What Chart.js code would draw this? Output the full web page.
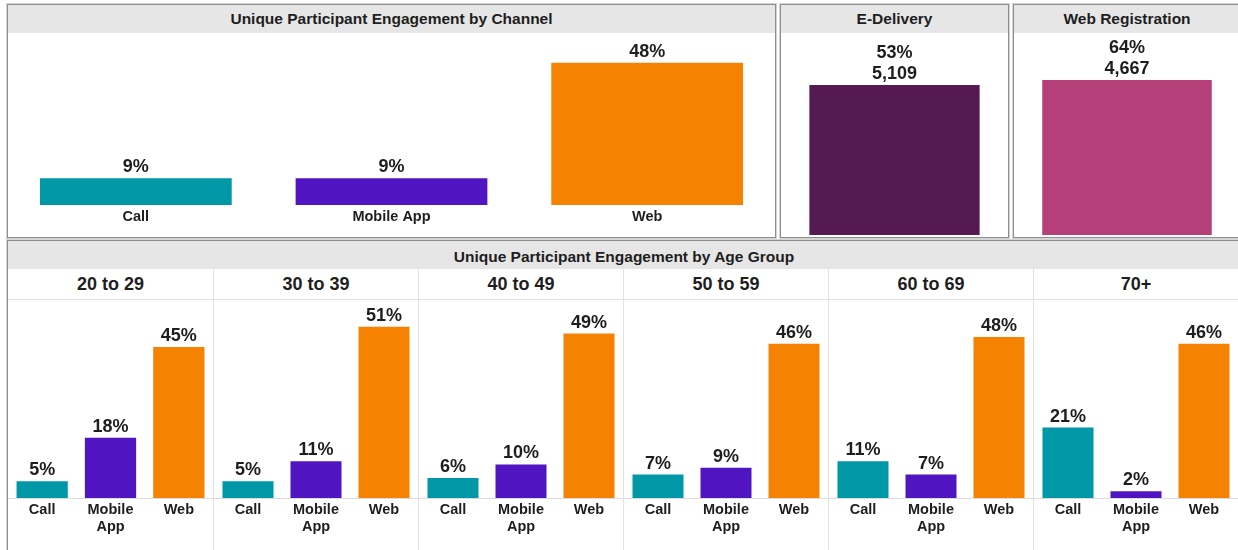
<!DOCTYPE html>
<html lang="en-US">
<head>
  <meta charset="utf-8">
  <title>Participant Engagement</title>
  <script src="https://cdn.jsdelivr.net/npm/chart.js@4/dist/chart.umd.min.js"></script>
  <style>
    body { margin: 0; width: 1238px; height: 550px; overflow: hidden; background: #fff;
           font-family: "Liberation Sans", Arial, sans-serif; color: #1e1e1e; }
    .panel { position: absolute; box-sizing: border-box; border: 1px solid #8e8e8e;
             box-shadow: 0 0 0 1px #d4d4d4; background: #fff; overflow: hidden; }
    .head { height: 28px; line-height: 28px; background: #e6e6e6; text-align: center;
            font-weight: bold; font-size: 15.5px; }
    .box { position: absolute; left: 0; right: 0; top: 28px; height: 204px; }
    .ages { display: flex; width: 1230px; }
    .age { flex: 0 0 205px; width: 205px; min-width: 0; box-sizing: border-box; border-left: 1px solid #e2e2e2; }
    .age:first-child { border-left: none; }
    .age h3 { margin: 0; height: 30px; line-height: 30px; text-align: center; font-size: 18px;
              border-bottom: 1px solid #e2e2e2; }
    .age .cbox { position: relative; height: 250px; width: 100%; }
  </style>
</head>
<body>
  <div class="panel" style="left:7px; top:4px; width:769px; height:234px">
    <div class="head">Unique Participant Engagement by Channel</div>
    <div class="box"><canvas id="chart-channel"></canvas></div>
  </div>
  <div class="panel" style="left:780px; top:4px; width:229px; height:234px">
    <div class="head">E-Delivery</div>
    <div class="box"><canvas id="chart-edelivery"></canvas></div>
  </div>
  <div class="panel" style="left:1013px; top:4px; width:228px; height:234px">
    <div class="head">Web Registration</div>
    <div class="box"><canvas id="chart-webreg"></canvas></div>
  </div>
  <div class="panel" style="left:7px; top:240px; width:1234px; height:320px">
    <div class="head" style="line-height:31px">Unique Participant Engagement by Age Group</div>
    <div class="ages" id="ages"></div>
  </div>

  <script>
    // channel totals
    const channels = ['Call', 'Mobile App', 'Web'];
    const channelShare = [9, 9, 48];

    // single KPIs
    const eDeliveryPct = 53;
    const eDeliveryCount = 5109;
    const webRegPct = 64;
    const webRegCount = 4667;

    // by age group
    const ageGroups = ['20 to 29', '30 to 39', '40 to 49', '50 to 59', '60 to 69', '70+'];
    const callByAge = [5, 5, 6, 7, 11, 21];
    const mobileByAge = [18, 11, 10, 9, 7, 2];
    const webByAge = [45, 51, 49, 46, 48, 46];

    const channelColors = ['#0097a7', '#5014c1', '#f58200'];
    const FONT = '"Liberation Sans", Arial, sans-serif';

    Chart.defaults.font.family = FONT;
    Chart.defaults.color = '#1e1e1e';

    // draws the text above every bar (one or more lines)
    const valueLabels = {
      id: 'valueLabels',
      afterDatasetsDraw(chart, args, opts) {
        const ctx = chart.ctx;
        const ds = chart.data.datasets[0];
        const meta = chart.getDatasetMeta(0);
        ctx.save();
        ctx.font = 'bold ' + opts.size + 'px ' + FONT;
        ctx.fillStyle = '#1e1e1e';
        ctx.textAlign = 'center';
        ctx.textBaseline = 'alphabetic';
        meta.data.forEach(function(bar, i) {
          let lines = ds.labelLines[i];
          for (let k = 0; k < lines.length; k++) {
            let y = bar.y - opts.offset - (lines.length - 1 - k) * opts.lineHeight;
            ctx.fillText(lines[k], bar.x, y);
          }
        });
        ctx.restore();
      }
    };

    function barChart(id, labels, values, colors, lines, cfg) {
      return new Chart(id, {
        type: 'bar',
        data: {
          labels: labels,
          datasets: [{
            data: values,
            backgroundColor: colors,
            labelLines: lines,
            categoryPercentage: 1,
            barPercentage: 0.75
          }]
        },
        options: {
          responsive: true,
          maintainAspectRatio: false,
          animation: false,
          layout: { padding: { top: 0, left: 0, right: 0, bottom: cfg.padBottom } },
          plugins: {
            legend: { display: false },
            tooltip: { enabled: false },
            valueLabels: { size: 18, offset: cfg.offset, lineHeight: 21 }
          },
          scales: {
            x: {
              display: cfg.showX,
              grid: { display: true, drawOnChartArea: false, drawTicks: false },
              border: { display: cfg.baseline, color: '#dcdcdc', width: 1 },
              ticks: {
                padding: 3,
                color: '#1e1e1e',
                font: { size: 14.5, weight: 'bold', lineHeight: 1.17 }
              }
            },
            y: { display: false, min: 0, max: cfg.max }
          }
        },
        plugins: [valueLabels]
      });
    }

    function pct(v) { return [v + '%']; }

    barChart('chart-channel', channels, channelShare, channelColors,
      channelShare.map(pct),
      { max: 58, padBottom: 9, showX: true, baseline: false, offset: 6 });

    barChart('chart-edelivery', ['E-Delivery'], [eDeliveryPct], ['#561a52'],
      [[eDeliveryPct + '%', eDeliveryCount.toLocaleString('en-US')]],
      { max: 71.4, padBottom: 2, showX: false, baseline: false, offset: 6 });

    barChart('chart-webreg', ['Web Registration'], [webRegPct], ['#b53f79'],
      [[webRegPct + '%', webRegCount.toLocaleString('en-US')]],
      { max: 83.4, padBottom: 2, showX: false, baseline: false, offset: 6 });

    // build all the age cells first so each canvas gets its real width
    let agesEl = document.getElementById('ages');
    ageGroups.forEach(function(group, i) {
      let cell = document.createElement('div');
      cell.className = 'age';
      cell.innerHTML = '<h3>' + group + '</h3><div class="cbox"><canvas id="age-' + i + '"></canvas></div>';
      agesEl.appendChild(cell);
    });
    ageGroups.forEach(function(group, i) {
      let vals = [callByAge[i], mobileByAge[i], webByAge[i]];
      barChart('age-' + i, ['Call', ['Mobile', 'App'], 'Web'], vals, channelColors,
        vals.map(pct),
        { max: 59, padBottom: 12, showX: true, baseline: true, offset: 6 });
    });
  </script>
</body>
</html>
